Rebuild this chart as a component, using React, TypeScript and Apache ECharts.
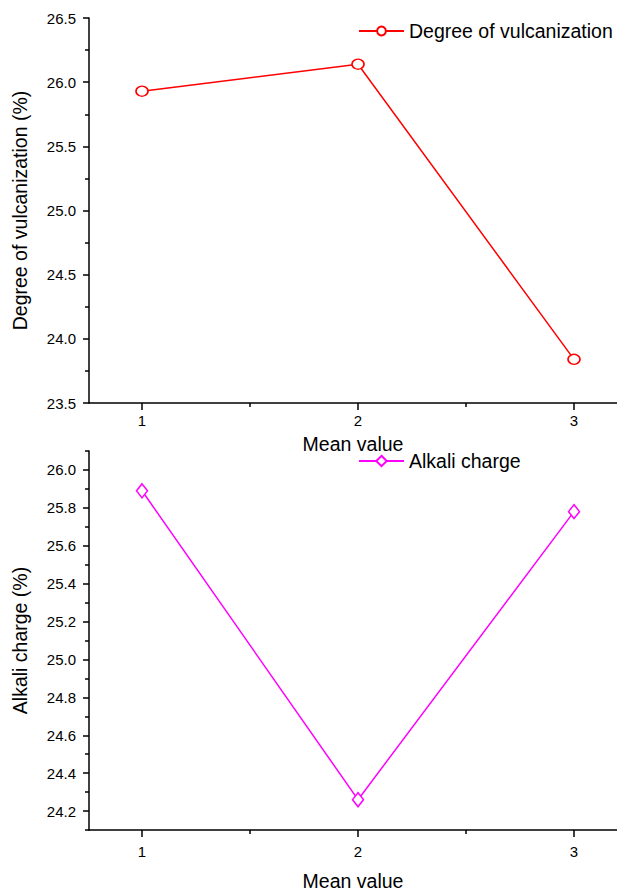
import React, { useEffect, useRef } from "react";
import * as echarts from "echarts";

const xCategories = [1, 2, 3];
const vulcanization = [25.93, 26.14, 23.84];
const alkali = [25.89, 24.26, 25.78];
const xMajorTicks = [1, 2, 3];
const xMinorTicks = [1.5, 2.5];
const bottomYMajor = [24.2, 24.4, 24.6, 24.8, 25.0, 25.2, 25.4, 25.6, 25.8, 26.0];
const bottomYMinor = [24.1, 24.3, 24.5, 24.7, 24.9, 25.1, 25.3, 25.5, 25.7, 25.9, 26.1];

const FONT = "'Liberation Sans', Arial, Helvetica, sans-serif";
const TITLE_SIZE = 19.5;
const X_MIN = 0.7546;
const X_MAX = 3.199;

export default function App() {
  const ref = useRef<HTMLDivElement>(null);
  useEffect(() => {
    document.body.style.margin = "0";
    const chart = echarts.init(ref.current!, null, { renderer: "svg" });
    const lineStyle = { color: "#000", width: 1.5 };
    const majorX = (grid: number, margin: number, gap: number) => ({
      type: "value",
      gridIndex: grid,
      position: "bottom",
      min: X_MIN,
      max: X_MAX,
      axisLine: { show: true, lineStyle, onZero: false },
      axisTick: { show: true, length: 7, lineStyle, customValues: xMajorTicks },
      axisLabel: {
        show: true,
        customValues: xMajorTicks,
        margin,
        color: "#000",
        fontSize: 15,
        fontFamily: FONT,
        formatter: (v: number) => String(Math.round(v)),
      },
      splitLine: { show: false },
      name: "Mean value",
      nameLocation: "middle",
      nameGap: gap,
      nameTextStyle: { color: "#000", fontSize: TITLE_SIZE, fontFamily: FONT },
    });
    const minorX = (grid: number) => ({
      type: "value",
      gridIndex: grid,
      position: "bottom",
      min: X_MIN,
      max: X_MAX,
      axisLine: { show: false, onZero: false },
      axisTick: { show: true, length: 4, lineStyle, customValues: xMinorTicks },
      axisLabel: { show: false },
      splitLine: { show: false },
    });
    const option = {
      animation: false,
      backgroundColor: "#fff",
      grid: [
        { left: 89, top: 18, right: 0, height: 385 },
        { left: 89, top: 451, right: 0, height: 381 },
      ],
      legend: [
        {
          data: ["Degree of vulcanization"],
          left: 358,
          top: 21,
          padding: 0,
          itemWidth: 45,
          itemHeight: 11,
          textStyle: { color: "#000", fontSize: TITLE_SIZE, fontFamily: FONT },
        },
        {
          data: ["Alkali charge"],
          left: 358,
          top: 451,
          padding: 0,
          itemWidth: 45,
          itemHeight: 13,
          textStyle: { color: "#000", fontSize: TITLE_SIZE, fontFamily: FONT },
        },
      ],
      xAxis: [majorX(0, 10, 31), minorX(0), majorX(1, 14, 41), minorX(1)],
      yAxis: [
        {
          type: "value",
          gridIndex: 0,
          position: "left",
          min: 23.5,
          max: 26.5,
          interval: 0.5,
          axisLine: { show: true, lineStyle, onZero: false },
          axisTick: { show: true, length: 6, lineStyle },
          minorTick: { show: true, splitNumber: 2, length: 4, lineStyle },
          axisLabel: {
            margin: 13,
            color: "#000",
            fontSize: 15,
            fontFamily: FONT,
            formatter: (v: number) => v.toFixed(1),
          },
          splitLine: { show: false },
          minorSplitLine: { show: false },
          name: "Degree of vulcanization (%)",
          nameLocation: "middle",
          nameGap: 59,
          nameTextStyle: { color: "#000", fontSize: TITLE_SIZE, fontFamily: FONT },
        },
        {
          type: "value",
          gridIndex: 1,
          position: "left",
          min: 24.1,
          max: 26.1,
          axisLine: { show: true, lineStyle, onZero: false },
          axisTick: { show: true, length: 6, lineStyle, customValues: bottomYMajor },
          axisLabel: {
            customValues: bottomYMajor,
            margin: 13,
            color: "#000",
            fontSize: 15,
            fontFamily: FONT,
            formatter: (v: number) => v.toFixed(1),
          },
          splitLine: { show: false },
          name: "Alkali charge (%)",
          nameLocation: "middle",
          nameGap: 59,
          nameTextStyle: { color: "#000", fontSize: TITLE_SIZE, fontFamily: FONT },
        },
        {
          type: "value",
          gridIndex: 1,
          position: "left",
          offset: 0,
          min: 24.1,
          max: 26.1,
          axisLine: { show: false, onZero: false },
          axisTick: { show: true, length: 4, lineStyle, customValues: bottomYMinor },
          axisLabel: { show: false },
          splitLine: { show: false },
        },
      ],
      series: [
        {
          name: "Degree of vulcanization",
          type: "line",
          xAxisIndex: 0,
          yAxisIndex: 0,
          data: xCategories.map((x, i) => [x, vulcanization[i]]),
          symbol: "circle",
          symbolSize: [12, 10],
          lineStyle: { color: "#ff0000", width: 1.5 },
          itemStyle: { color: "#fff", borderColor: "#ff0000", borderWidth: 1.5 },
        },
        {
          name: "Alkali charge",
          type: "line",
          xAxisIndex: 2,
          yAxisIndex: 1,
          data: xCategories.map((x, i) => [x, alkali[i]]),
          symbol: "diamond",
          symbolSize: [11, 14],
          lineStyle: { color: "#ff00ff", width: 1.5 },
          itemStyle: { color: "#fff", borderColor: "#ff00ff", borderWidth: 1.5 },
        },
      ],
    };
    chart.setOption(option as any);
    return () => chart.dispose();
  }, []);
  return (
    <div
      ref={ref}
      style={{ position: "absolute", left: 0, top: 0, width: 617, height: 892 }}
    />
  );
}
